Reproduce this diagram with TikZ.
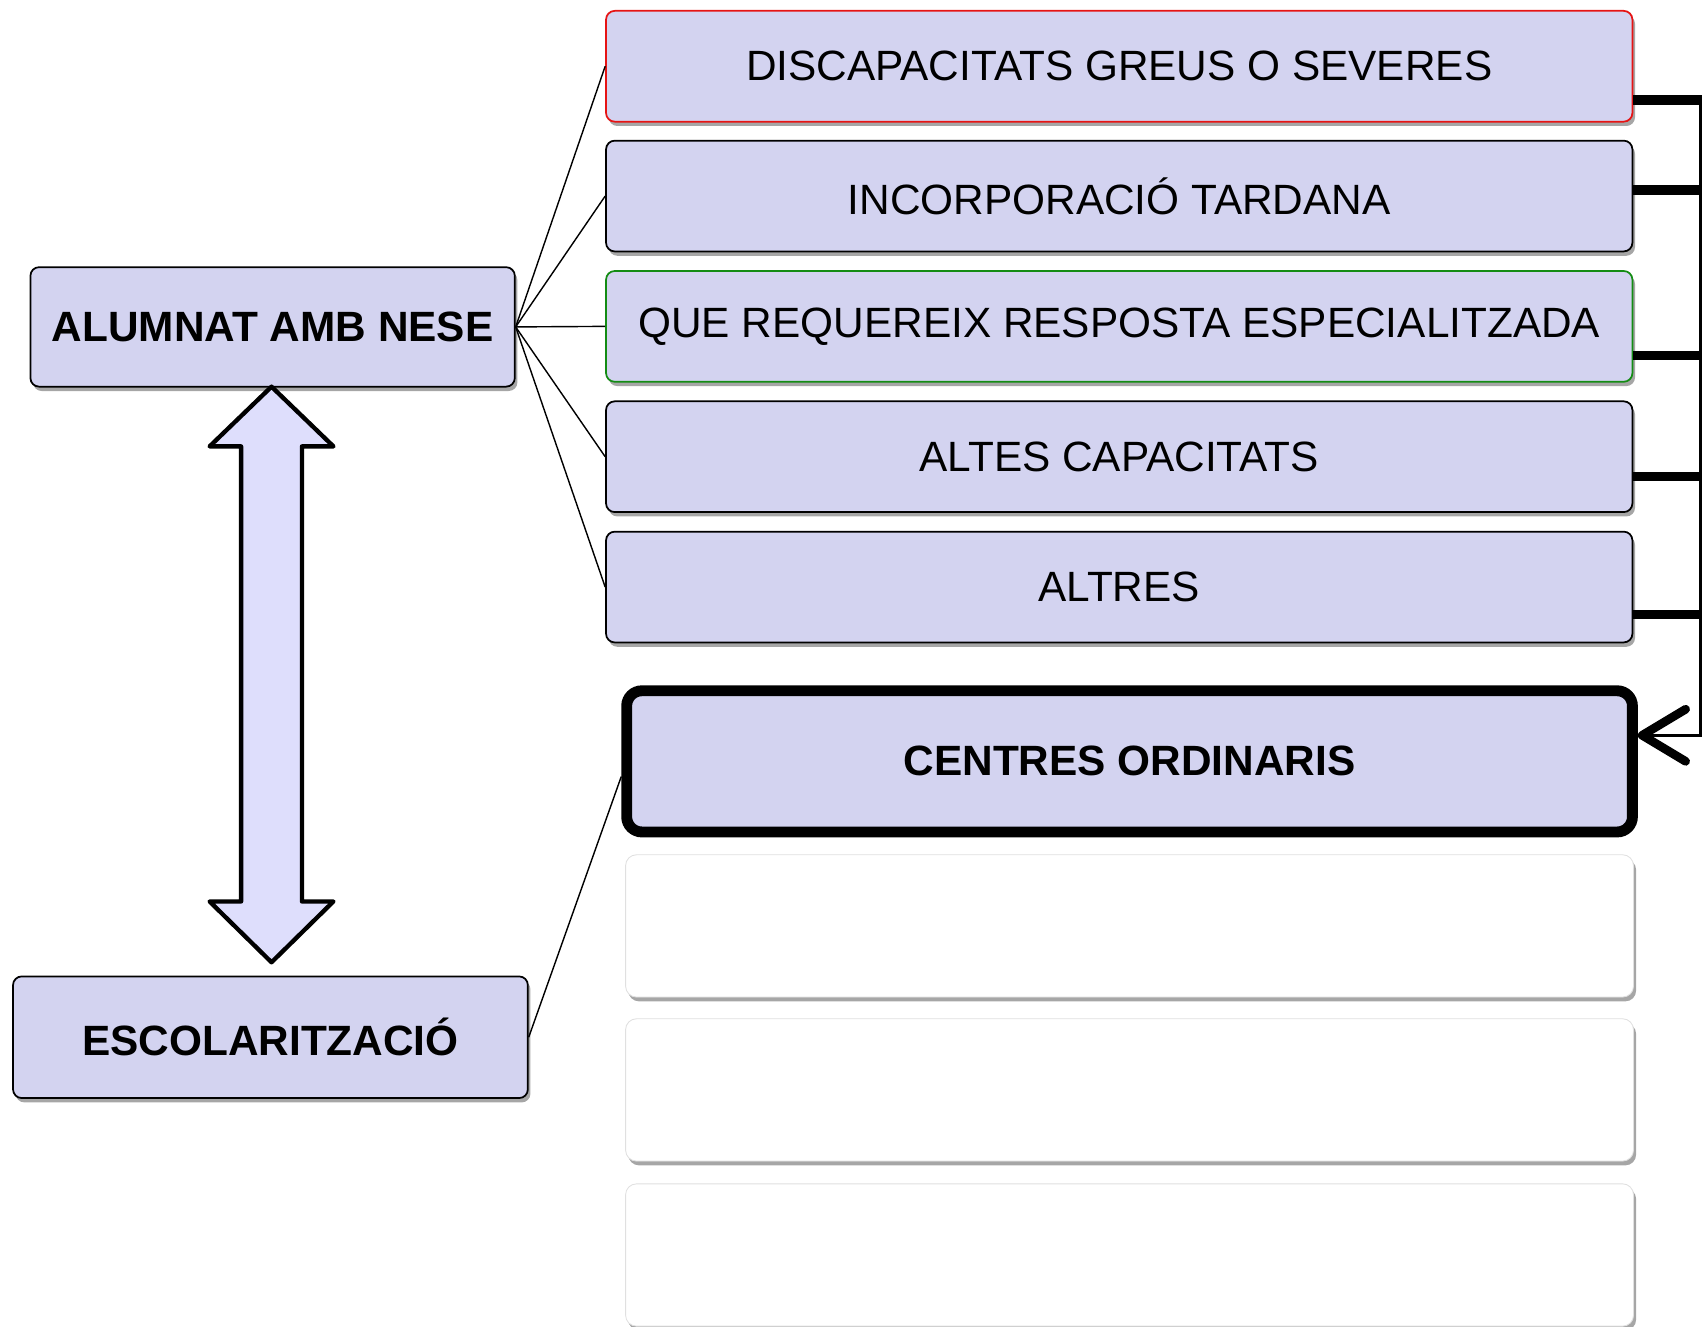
\documentclass[tikz,border=0pt]{standalone}
\usepackage{fontspec}
\setmainfont{Liberation Sans}
\usetikzlibrary{calc,shadows,arrows.meta}
\definecolor{boxfill}{RGB}{211,211,240}
\definecolor{arrfill}{RGB}{222,222,252}
\definecolor{redb}{RGB}{230,20,20}
\definecolor{greenb}{RGB}{20,140,20}
\tikzset{
  shad/.style={drop shadow={shadow xshift=1.2pt, shadow yshift=-2pt, opacity=0.35, fill=black}},
  catbox/.style={draw=black, line width=0.8pt, fill=boxfill, rounded corners=4pt, shad,
    minimum width=472.5pt, minimum height=51pt, inner sep=0pt,
    font=\fontsize{19.5pt}{23pt}\selectfont},
  leftbox/.style={draw=black, line width=0.8pt, fill=boxfill, rounded corners=4pt, shad,
    inner sep=0pt, font=\fontsize{19.5pt}{23pt}\selectfont\bfseries},
  centbox/.style={draw=black, line width=5pt, fill=boxfill, rounded corners=7pt, shad,
    minimum width=463pt, minimum height=65pt, inner sep=0pt,
    font=\fontsize{19.5pt}{23pt}\selectfont\bfseries},
  emptybox/.style={draw=black!12, line width=0.4pt, fill=white, rounded corners=5pt, shad,
    minimum width=464pt, minimum height=65.5pt, inner sep=0pt},
  thinlink/.style={draw=black, line width=0.65pt},
  busthick/.style={draw=black, line width=4.25pt},
  busline/.style={draw=black, line width=1.4pt},
  dblarrow/.style={draw=black, line width=2pt, fill=arrfill, line join=round}
}
\begin{document}
\begin{tikzpicture}[x=0.5pt, y=-0.5pt]
\useasboundingbox (0,0) rectangle (1568,1221);
% category boxes
\node[catbox, draw=redb] (b1) at (1030.5,61) {DISCAPACITATS GREUS O SEVERES};
\node[catbox] (b2) at (1030.5,180.5) {INCORPORACIÓ TARDANA};
\node[catbox, draw=greenb] (b3) at (1030.5,300.5) {QUE REQUEREIX RESPOSTA ESPECIALITZADA};
\node[catbox] (b4) at (1030.5,420.5) {ALTES CAPACITATS};
\node[catbox] (b5) at (1030.5,540.5) {ALTRES};
% centres
\node[centbox] (cent) at (1040,701) {CENTRES ORDINARIS};
\node[emptybox] (e1) at (1040,852.5) {};
\node[emptybox] (e2) at (1040,1003.5) {};
\node[emptybox] (e3) at (1040,1155.5) {};
% left boxes
\node[leftbox, minimum width=223pt, minimum height=55pt] (nese) at (251,301) {ALUMNAT AMB NESE};
\node[leftbox, minimum width=237pt, minimum height=56pt] (escol) at (249,955) {ESCOLARITZACIÓ};
% thin links
\foreach \b in {b1,b2,b3,b4,b5} {\draw[thinlink] (nese.east) -- (\b.west);}
\draw[thinlink] (escol.east) -- ([yshift=-7pt]cent.west);
% double arrow
\coordinate (at) at (250,356);
\coordinate (ab) at (250,886);
\draw[dblarrow] (at) -- ++(57,55) -- ++(-29,0) -- ($(ab)+(28,-56)$) -- ++(29,0) -- (ab)
  -- ++(-57,-56) -- ++(29,0) -- ($(at)+(-28,55)$) -- ++(-29,0) -- cycle;
% bus on the right
\coordinate (r1) at (1566,92);
\coordinate (r2) at (1566,175);
\coordinate (r3) at (1566,327);
\coordinate (r4) at (1566,439);
\coordinate (r5) at (1566,566);
\coordinate (rb) at (1566,677);
\draw[busthick] (b1.east |- r1) -- ([xshift=0.7pt]r1);
\draw[busthick] (b2.east |- r2) -- ([xshift=0.7pt]r2);
\draw[busthick] (b3.east |- r3) -- ([xshift=0.7pt]r3);
\draw[busthick] (b4.east |- r4) -- ([xshift=0.7pt]r4);
\draw[busthick] (b5.east |- r5) -- ([xshift=0.7pt]r5);
\draw[busline, -{Straight Barb[line width=4pt, length=20pt, width=24pt, round]}]
  ([yshift=2.1pt]r1) -- (rb) -- (cent.east |- rb);
\end{tikzpicture}
\end{document}
